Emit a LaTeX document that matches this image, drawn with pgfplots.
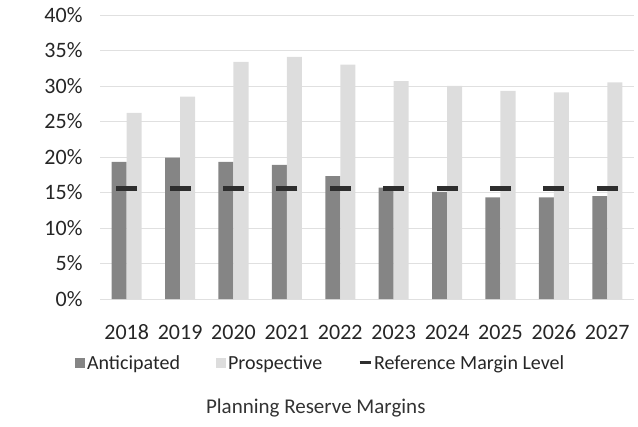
\documentclass[border=0pt]{standalone}
\usepackage{fontspec}
\setmainfont{Carlito}
\usepackage{pgfplots}
\pgfplotsset{compat=1.18}
\definecolor{antc}{HTML}{858585}
\definecolor{prosc}{HTML}{DDDDDD}
\definecolor{refc}{HTML}{2E2E2E}
\begin{document}
\begin{tikzpicture}[font=\fontsize{20bp}{24bp}\selectfont]
\path[use as bounding box] (-100bp,-128bp) rectangle (538bp,299bp);
\begin{axis}[
  scale only axis, width=534bp, height=284bp,
  at={(0,0)}, anchor=south west,
  xmin=-0.5, xmax=9.5, ymin=0, ymax=40,
  ytick={0,5,...,40},
  yticklabel={\pgfmathprintnumber{\tick}\%},
  /pgf/number format/assume math mode=true,
  xtick={0,...,9},
  xticklabels={2018,2019,2020,2021,2022,2023,2024,2025,2026,2027},
  tick label style={font=\fontsize{22bp}{26bp}\selectfont, text=black!85},
  xticklabel style={anchor=base, yshift=-36bp},
  yticklabel style={xshift=-14bp},
  axis line style={draw=none},
  major tick style={draw=none},
  ymajorgrids, grid style={black!12, line width=0.6bp},
  ybar=0pt, bar width=15bp,
  clip=false,
  legend style={at={(-0.047,-0.225)}, anchor=west, draw=none, fill=none,
    font=\fontsize{20bp}{24bp}\selectfont, text=black!85,
    legend columns=3, /tikz/every even column/.append style={column sep=34bp},
    legend cell align=left, inner sep=0pt},
]
\addplot[fill=antc, draw=none,
  legend image code/.code={\fill[antc] (0bp,-5bp) rectangle (10bp,5bp);}]
  coordinates {(0,19.3) (1,19.9) (2,19.3) (3,18.9) (4,17.3) (5,15.7) (6,15.1) (7,14.3) (8,14.3) (9,14.5)};
\addlegendentry{Anticipated}
\addplot[fill=prosc, draw=none,
  legend image code/.code={\fill[prosc] (0bp,-5bp) rectangle (10bp,5bp);}]
  coordinates {(0,26.2) (1,28.5) (2,33.4) (3,34.1) (4,33.0) (5,30.7) (6,30.0) (7,29.3) (8,29.1) (9,30.5)};
\addlegendentry{Prospective}
\addplot[refc, only marks, mark=-, mark size=10.5bp, mark options={line width=5bp}, bar shift=0pt,
  legend image code/.code={\draw[refc, line width=3bp] (0bp,0bp) -- (11bp,0bp);}]
  coordinates {(0,15.5) (1,15.5) (2,15.5) (3,15.5) (4,15.5) (5,15.5) (6,15.5) (7,15.5) (8,15.5) (9,15.5)};
\addlegendentry{Reference Margin Level}
\node[text=black!80, font=\fontsize{21bp}{25bp}\selectfont] at (rel axis cs:0.404,-0.384) {Planning Reserve Margins};
\end{axis}
\end{tikzpicture}
\end{document}
